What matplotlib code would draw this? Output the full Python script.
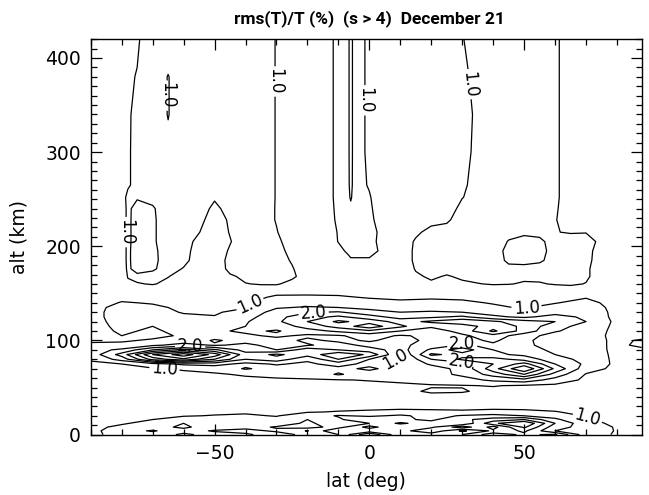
import numpy as np
import matplotlib
matplotlib.use("Agg")
import matplotlib.pyplot as plt
from matplotlib.ticker import MultipleLocator

# rms(T)/T in percent, upper atmosphere (152-420 km), non-uniform latitude nodes
lat_hi = [-90, -85, -80, -78, -75, -70, -65, -60, -55, -50, -45, -40, -35, -30, -25,
          -20, -15, -10, -7, -6, -5, 0, 5, 10, 15, 20, 25, 30, 35, 40, 45, 50, 55,
          60, 65, 70, 75, 80, 85, 88]
alt_hi = [152, 160, 168, 176, 185, 195, 205, 215, 228, 240, 252, 265, 300, 340, 380, 420]
rms_hi = [
    [.88, .88, .89, .89, .90, .90, .90, .89, .88, .88, .89, .90, .91, .92, .93, .93, .92, .91, .91, .91, .91, .90, .90, .89, .90, .91, .91, .90, .90, .91, .91, .90, .90, .91, .92, .92, .88, .87, .87, .87],
    [.87, .87, .88, .97, .99, 1.01, .97, .92, .88, .88, .94, .995, 1.01, 1.01, .97, .92, .90, .90, .90, .90, .90, .90, .90, .90, .94, .98, .96, .98, .995, 1.01, 1.005, .99, .99, 1.01, 1.02, .995, .92, .88, .87, .87],
    [.87, .87, .88, 1.01, 1.04, 1.05, 1.005, .95, .90, .88, .98, 1.03, 1.05, 1.05, 1.02, .95, .90, .90, .90, .90, .90, .90, .90, .90, .98, 1.02, .99, 1.02, 1.04, 1.04, 1.03, 1.02, 1.03, 1.04, 1.04, 1.02, .94, .90, .88, .88],
    [.88, .88, .90, 1.03, .94, .98, 1.06, .99, .92, .90, 1.04, 1.06, 1.06, 1.05, 1.01, .93, .90, .90, .92, .93, .93, .93, .92, .90, 1.01, 1.05, 1.04, 1.06, 1.06, 1.06, 1.04, 1.04, 1.05, 1.05, 1.04, 1.02, .94, .90, .88, .88],
    [.88, .89, .90, 1.04, .90, .96, 1.07, 1.04, .93, .90, 1.05, 1.08, 1.08, 1.05, .99, .90, .90, .92, .96, .98, .98, .98, .93, .90, 1.03, 1.05, 1.07, 1.08, 1.08, 1.08, .97, .96, .98, 1.05, 1.05, 1.03, .95, .90, .88, .88],
    [.88, .89, .90, 1.04, .90, .96, 1.08, 1.05, .94, .90, 1.02, 1.10, 1.08, 1.05, .96, .90, .90, .96, 1.02, 1.05, 1.05, 1.05, .96, .90, 1.03, 1.06, 1.08, 1.10, 1.10, 1.10, .94, .92, .95, 1.06, 1.05, 1.03, .96, .90, .88, .88],
    [.88, .89, .90, 1.04, .92, .97, 1.10, 1.06, .96, .90, .99, 1.10, 1.08, 1.04, .92, .90, .90, 1.005, 1.04, 1.05, 1.05, 1.04, .95, .90, 1.02, 1.06, 1.08, 1.10, 1.10, 1.10, .99, .93, .96, 1.08, 1.06, 1.05, .97, .90, .88, .88],
    [.88, .89, .90, 1.04, .92, .97, 1.10, 1.08, 1.005, .90, 1.01, 1.10, 1.08, 1.01, .90, .90, .90, 1.01, 1.05, 1.06, 1.06, 1.05, .95, .90, .97, 1.05, 1.05, 1.08, 1.10, 1.10, 1.05, 1.04, 1.05, 1.005, .99, .995, .92, .90, .88, .88],
    [.88, .89, .90, 1.04, .92, .97, 1.10, 1.10, 1.04, .93, 1.02, 1.10, 1.08, .99, .90, .90, .90, 1.03, 1.05, 1.05, 1.05, 1.03, .93, .90, .92, .95, .98, 1.06, 1.08, 1.10, 1.10, 1.10, 1.10, 1.01, .92, .90, .90, .90, .88, .88],
    [.88, .89, .90, 1.04, .93, .98, 1.10, 1.12, 1.08, .96, 1.06, 1.10, 1.08, .99, .90, .90, .90, 1.04, 1.05, 1.04, 1.05, 1.02, .92, .90, .92, .92, .93, 1.04, 1.08, 1.12, 1.12, 1.10, 1.10, 1.02, .92, .90, .90, .90, .88, .88],
    [.88, .90, .93, 1.04, 1.02, 1.05, 1.10, 1.12, 1.10, 1.02, 1.08, 1.12, 1.10, .99, .90, .90, .90, 1.05, 1.05, .98, 1.05, 1.01, .91, .90, .92, .92, .93, .995, 1.05, 1.12, 1.12, 1.10, 1.10, 1.03, .92, .90, .90, .90, .88, .88],
    [.89, .91, .94, .98, 1.05, 1.12, 1.12, 1.14, 1.10, 1.08, 1.10, 1.12, 1.10, .99, .90, .90, .90, 1.05, 1.05, .95, 1.05, .99, .90, .90, .92, .92, .93, .97, 1.06, 1.12, 1.12, 1.10, 1.10, 1.03, .92, .90, .90, .90, .89, .89],
    [.89, .91, .94, .98, 1.05, 1.15, 1.06, 1.15, 1.12, 1.10, 1.12, 1.12, 1.10, .99, .90, .90, .90, 1.05, 1.05, .94, 1.05, .98, .90, .90, .92, .92, .93, .96, 1.03, 1.12, 1.12, 1.10, 1.10, 1.03, .92, .90, .90, .90, .89, .89],
    [.90, .92, .95, .98, 1.04, 1.15, .99, 1.15, 1.12, 1.10, 1.12, 1.12, 1.10, .99, .90, .90, .90, 1.05, 1.05, .94, 1.05, .98, .90, .90, .92, .92, .93, .96, 1.02, 1.12, 1.12, 1.10, 1.10, 1.03, .92, .90, .90, .90, .90, .90],
    [.90, .92, .95, .97, 1.01, 1.15, .99, 1.15, 1.12, 1.10, 1.12, 1.12, 1.10, .99, .90, .90, .90, 1.05, 1.05, .94, 1.05, .98, .90, .90, .92, .92, .93, .96, 1.05, 1.12, 1.12, 1.10, 1.10, 1.03, .92, .90, .90, .90, .90, .90],
    [.90, .92, .95, .96, .97, 1.15, 1.15, 1.15, 1.12, 1.10, 1.12, 1.12, 1.10, .99, .90, .90, .90, 1.05, 1.05, .94, 1.05, .98, .90, .90, .92, .92, .93, .99, 1.08, 1.12, 1.12, 1.10, 1.10, 1.03, .92, .90, .90, .90, .90, .90],
]

# lower atmosphere (0-152 km), 10 degree latitude nodes
lat_lo = [-90, -80, -70, -60, -50, -40, -30, -20, -10, 0, 10, 20, 30, 40, 50, 60, 70, 80, 88]
alt_lo = [0, 4, 8, 12, 16, 20, 24, 28, 34, 40, 46, 52, 58, 64, 70, 75, 80, 85, 90, 95,
          100, 105, 110, 115, 120, 125, 130, 135, 140, 146, 152]
rms_lo = [
    [.90, 1.15, 1.20, 1.60, 1.30, 1.40, 1.80, 1.30, 1.50, 3.00, 1.60, 1.70, 2.00, 2.80, 2.40, 2.60, 1.20, .95, .90],
    [.90, 1.20, .95, 1.30, 1.55, 1.70, 1.40, .97, 2.00, 1.60, 1.80, 2.40, 1.40, 2.10, 2.60, 1.50, 1.40, .95, .90],
    [.88, 1.10, 1.30, 1.60, 1.20, 1.30, 1.55, 1.70, 1.30, 2.20, 1.50, 1.90, 2.80, 1.80, 3.10, 1.70, 1.30, .95, .88],
    [.85, .95, 1.15, 1.50, 1.10, 1.40, 1.20, 1.60, 1.20, 1.50, 2.10, 1.70, 1.50, 2.90, 3.50, 2.00, 1.15, .90, .88],
    [.85, .90, 1.00, 1.20, 1.30, 1.15, 1.10, 1.50, 1.40, 2.00, 1.60, 1.40, 1.90, 2.20, 2.50, 1.60, 1.05, .88, .88],
    [.85, .88, .92, .97, 1.02, 1.05, .98, 1.20, 1.55, 1.40, 1.60, 1.30, 1.55, 1.70, 1.50, 1.30, .95, .88, .88],
    [.85, .85, .88, .90, .92, .95, .97, .98, 1.02, 1.05, 1.10, 1.08, 1.05, 1.10, 1.08, 1.02, .90, .88, .88],
    [.86, .86, .88, .88, .88, .90, .90, .92, .93, .95, .96, .95, .95, .96, .95, .92, .88, .86, .86],
    [.88, .88, .88, .88, .88, .88, .88, .88, .88, .88, .88, .88, .88, .88, .88, .88, .88, .88, .88],
    [.88, .88, .88, .88, .88, .88, .88, .88, .88, .88, .88, .88, .88, .88, .88, .88, .88, .88, .88],
    [.88, .88, .88, .88, .88, .88, .88, .88, .88, .88, .90, 1.05, 1.03, .90, .88, .88, .88, .88, .88],
    [.88, .88, .88, .88, .88, .88, .88, .88, .90, .90, .92, .97, .98, 1.02, .95, .90, .88, .88, .88],
    [.88, .88, .88, .88, .88, .90, .92, .95, .98, 1.02, 1.08, 1.15, 1.30, 1.60, 1.80, 1.30, .90, .88, .88],
    [.88, .88, .90, .90, .95, 1.05, 1.15, 1.20, 1.55, 1.25, 1.20, 1.30, 1.60, 2.20, 3.00, 1.80, .97, .88, .88],
    [.90, .90, .95, 1.05, 1.15, 1.55, 1.30, 1.25, 1.35, 1.60, 1.25, 1.35, 1.60, 2.80, 4.00, 2.40, 1.20, .88, .88],
    [.92, 1.00, 1.30, 1.60, 1.70, 1.35, 1.55, 1.40, 1.70, 1.35, 1.20, 1.55, 1.70, 2.50, 3.20, 2.00, 1.40, .88, .88],
    [1.05, 1.70, 3.20, 3.90, 3.00, 2.00, 2.30, 1.60, 2.50, 1.50, .90, 2.00, 2.60, 2.70, 2.30, 1.70, 1.35, .88, .88],
    [1.20, 2.20, 4.00, 4.80, 3.80, 2.20, 2.60, 2.20, 2.90, 2.40, .95, 2.60, 2.30, 2.10, 1.90, 1.50, 1.30, .88, .88],
    [1.30, 1.60, 2.50, 3.20, 2.60, 1.80, 1.50, 2.30, 2.00, 1.70, 1.30, 2.10, 2.80, 2.00, 1.70, 1.40, 1.25, .88, .90],
    [1.10, 1.10, 1.40, 1.70, 1.45, 1.60, 1.35, 1.45, 1.70, 1.35, 1.40, 1.70, 2.05, 1.90, 1.60, 1.30, 1.20, .90, 1.10],
    [.92, .95, 1.05, 1.20, 1.55, 1.35, 1.30, 1.60, 1.40, 1.55, 1.35, 1.60, 1.80, 2.10, 1.60, 1.25, 1.20, .90, 1.05],
    [.88, 1.00, .90, 1.05, 1.30, 1.40, 1.60, 1.40, 1.45, 1.70, 1.45, 1.60, 1.90, 2.30, 1.70, 1.30, 1.20, .88, .85],
    [.86, 1.05, .95, 1.10, 1.40, 1.60, 1.45, 1.80, 2.10, 2.40, 2.00, 1.70, 2.20, 3.10, 2.30, 1.55, 1.25, .88, .85],
    [.85, 1.10, 1.00, 1.15, 1.30, 1.50, 1.70, 2.20, 2.70, 3.30, 2.60, 2.10, 2.20, 2.80, 2.40, 1.65, 1.35, .88, .85],
    [.85, 1.15, 1.10, 1.10, 1.15, 1.45, 1.90, 2.50, 3.10, 2.80, 2.30, 2.60, 2.90, 2.60, 2.20, 2.00, 1.50, .88, .85],
    [.85, 1.20, 1.12, 1.05, 1.02, 1.30, 1.85, 2.30, 2.60, 2.20, 1.80, 1.90, 2.10, 1.60, 1.40, 1.70, 1.40, .85, .85],
    [.85, 1.20, 1.10, .98, .95, 1.15, 1.70, 1.95, 2.05, 1.70, 1.50, 1.55, 1.50, 1.30, 1.10, 1.30, 1.35, .85, .85],
    [.85, 1.15, 1.05, .95, .92, .97, 1.45, 1.55, 1.50, 1.35, 1.25, 1.30, 1.25, 1.05, .97, 1.12, 1.25, .85, .85],
    [.85, 1.02, .98, .90, .88, .95, 1.25, 1.30, 1.25, 1.12, 1.05, 1.08, 1.05, .98, .95, .98, 1.12, .85, .85],
    [.85, .92, .90, .85, .85, .88, 1.05, 1.06, 1.04, .97, .95, .96, .95, .92, .90, .94, .97, .85, .85],
    [.90, .90, .90, .90, .90, .90, .90, .90, .90, .90, .90, .90, .90, .90, .90, .90, .90, .90, .90],
]

other_levels = [1.5, 2.5, 3.0, 3.5, 4.0, 4.5]

fig = plt.figure(figsize=(6.49, 4.95), dpi=100)
ax = fig.add_axes([0.1398, 0.122, 0.849, 0.799])

line = dict(colors='k', linewidths=0.9)
z_lo = np.array(rms_lo)
z_hi = np.array(rms_hi)

# labelled levels get their own contour sets so clabel can pick them
lo_one = ax.contour(lat_lo, alt_lo, z_lo, levels=[1.0], **line)
lo_two = ax.contour(lat_lo, alt_lo, z_lo, levels=[2.0], **line)
ax.contour(lat_lo, alt_lo, z_lo, levels=other_levels, **line)
hi_one = ax.contour(lat_hi, alt_hi, z_hi, levels=[1.0], **line)
ax.contour(lat_hi, alt_hi, z_hi, levels=other_levels, **line)

lab = dict(fmt='%.1f', fontsize=12, inline=True, inline_spacing=2)
ax.clabel(hi_one, manual=[(-65, 360), (-30.4, 375), (-1.4, 355),
                          (31.8, 372), (-78.7, 215)], **lab)
ax.clabel(lo_one, manual=[(-38, 137), (51, 130), (8, 82),
                          (-66, 84), (70, 10)], **lab)
ax.clabel(lo_two, manual=[(-18, 129), (30, 98), (30, 82), (-58, 87)], **lab)

ax.set_xlim(-90, 88)
ax.set_ylim(0, 420)
ax.xaxis.set_major_locator(MultipleLocator(50))
ax.xaxis.set_minor_locator(MultipleLocator(10))
ax.yaxis.set_major_locator(MultipleLocator(100))
ax.yaxis.set_minor_locator(MultipleLocator(10))
ax.tick_params(which='both', direction='in', top=True, right=True,
               labelsize=13.5, width=0.9)
ax.tick_params(which='major', length=8, pad=7)
ax.tick_params(which='minor', length=4)
for sp in ax.spines.values():
    sp.set_linewidth(1.0)

ax.set_xlabel('lat (deg)', fontsize=13.5, labelpad=6)
ax.set_ylabel('alt (km)', fontsize=13.5, labelpad=12)

fig.text(0.570, 0.963, 'rms(T)/T (%)  (s > 4)  December 21', ha='center', va='center',
         fontsize=12.5, fontweight='bold', family=['Roboto', 'DejaVu Sans'])

fig.savefig('out.png', dpi=100)
